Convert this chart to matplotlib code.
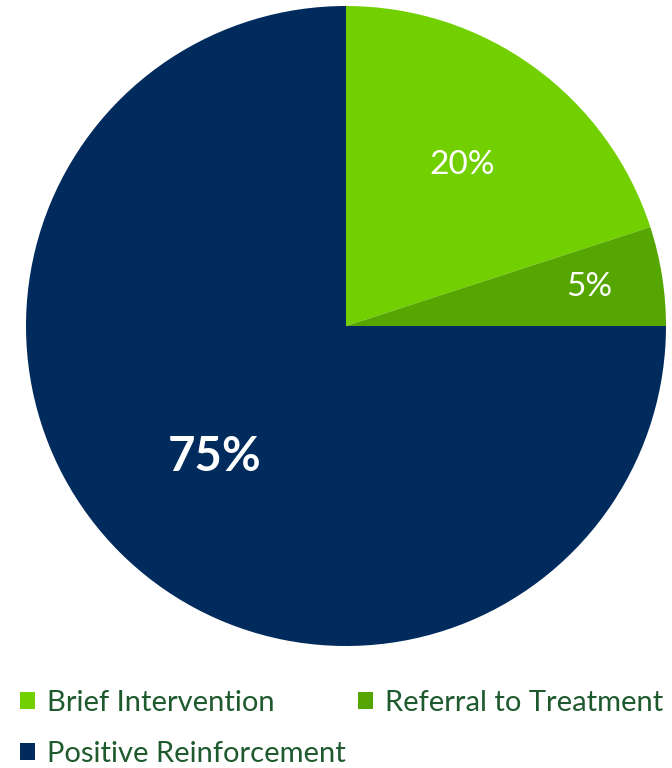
import matplotlib
matplotlib.use("Agg")
import matplotlib.pyplot as plt
from matplotlib.patches import Patch
import numpy as np

categories = ["Brief Intervention", "Referral to Treatment", "Positive Reinforcement"]
values = [20, 5, 75]
colors = ["#72D000", "#55A600", "#002B5C"]
label_dist = [0.62, 0.77, 0.58]
label_size = [24, 24, 34]
label_weight = ["normal", "normal", "bold"]

plt.rcParams['font.family'] = ['Lato', 'DejaVu Sans']

fig = plt.figure(figsize=(6.72, 7.68), dpi=100)
ax = fig.add_axes([26 / 672, 122 / 768, 640 / 672, 640 / 768])
wedges, texts, autotexts = ax.pie(values, colors=colors, startangle=90, counterclock=False,
                                  autopct=lambda p: f"{p:.0f}%", pctdistance=0.6,
                                  wedgeprops=dict(linewidth=0))
for w, t, d, s, wt in zip(wedges, autotexts, label_dist, label_size, label_weight):
    ang = np.deg2rad((w.theta1 + w.theta2) / 2)
    t.set_position((d * np.cos(ang), d * np.sin(ang)))
    t.set_color("white")
    t.set_fontsize(s)
    t.set_fontweight(wt)
ax.set_aspect("equal")
ax.set_xlim(-1, 1)
ax.set_ylim(-1, 1)

handles = [Patch(facecolor=c, edgecolor="none") for c in colors]
order = [0, 2, 1]
leg = fig.legend([handles[i] for i in order], [categories[i] for i in order],
                 ncol=2, loc="upper left", bbox_to_anchor=(20 / 672, 1 - 690 / 768),
                 frameon=False, fontsize=21, handlelength=0.52, handleheight=0.52,
                 handletextpad=0.42, columnspacing=0.4, labelspacing=0.86,
                 borderpad=0, borderaxespad=0)
for txt in leg.get_texts():
    txt.set_color("#1E5A2E")

fig.savefig("out.png", dpi=100)
